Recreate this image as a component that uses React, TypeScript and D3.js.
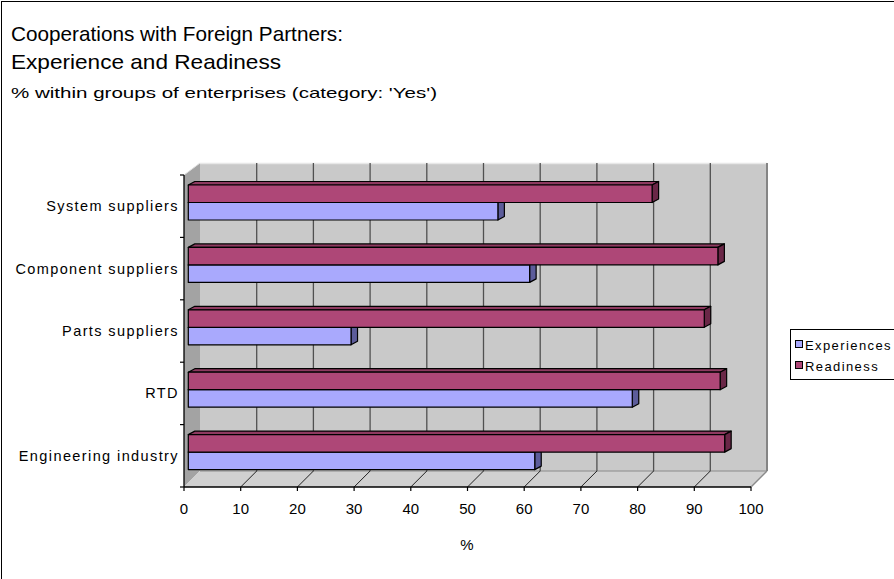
import React from 'react';
import * as d3 from 'd3';

const categories = ['System suppliers', 'Component suppliers', 'Parts suppliers', 'RTD', 'Engineering industry'];
const experiences = [54.6, 60.2, 28.7, 78.3, 61.1];
const readiness = [81.8, 93.4, 91.0, 93.8, 94.6];
const xTicks = [0, 10, 20, 30, 40, 50, 60, 70, 80, 90, 100];
const seriesNames = ['Experiences', 'Readiness'];
const titleLines = ['Cooperations with Foreign Partners:', 'Experience and Readiness'];
const subtitle = "% within groups of enterprises (category: 'Yes')";
const axisTitle = '%';

const W = 894, H = 579;
const FX0 = 184, FX1 = 751, FTOP = 175, FBOT = 487;
const DX = 16, DYT = -12, DYB = -16;
const BDX = 6.5, BDY = -3.5, BZ = 4.3;
const FONT = '"Liberation Sans", Arial, sans-serif';

const colors = {
  exp: { front: '#a9a9fd', top: '#8686cc', side: '#5c5c9a' },
  rdy: { front: '#ae4777', top: '#8e3a60', side: '#6a2747' },
};

export default function App() {
  const x = d3.scaleLinear().domain([0, 100]).range([FX0, FX1]);
  const y = d3.scaleBand<string>().domain(categories).range([FTOP, FBOT]);
  const bw = y.bandwidth();

  const bar = (v: number, y0: number, y1: number, c: { front: string; top: string; side: string }, key: string) => {
    const x0 = x(0) + BZ;
    const x1 = x(v) + BZ;
    const top = `${x0},${y0} ${x0 + BDX},${y0 + BDY} ${x1 + BDX},${y0 + BDY} ${x1},${y0}`;
    const side = `${x1},${y0} ${x1 + BDX},${y0 + BDY} ${x1 + BDX},${y1 + BDY} ${x1},${y1}`;
    return (
      <g key={key} stroke="#000" strokeWidth={1.2} strokeLinejoin="round">
        <polygon points={top} fill={c.top} />
        <polygon points={side} fill={c.side} />
        <rect x={x0} y={y0} width={x1 - x0} height={y1 - y0} fill={c.front} />
      </g>
    );
  };

  const backTop = FTOP + DYT, backBot = FBOT + DYB;
  const bx0 = FX0 + DX, bx1 = FX1 + DX;

  return (
    <svg width={W} height={H} style={{ position: 'absolute', left: 0, top: 0, background: '#fff' }} fontFamily={FONT}>
      <rect x={1.5} y={1.5} width={1200} height={1200} fill="#fff" stroke="#000" strokeWidth={1} />

      {/* titles */}
      <text x={11} y={41} fontSize={21} textLength={332} lengthAdjust="spacingAndGlyphs">{titleLines[0]}</text>
      <text x={11} y={69} fontSize={21} textLength={270} lengthAdjust="spacingAndGlyphs">{titleLines[1]}</text>
      <text x={11} y={98} fontSize={15} textLength={426} lengthAdjust="spacingAndGlyphs">{subtitle}</text>

      {/* walls */}
      <polygon points={`${bx0},${backTop} ${bx1},${backTop} ${bx1},${backBot} ${bx0},${backBot}`} fill="#c9c9c9" />
      <polygon points={`${FX0},${FTOP} ${bx0},${backTop} ${bx0},${backBot} ${FX0},${FBOT}`} fill="#a3a3a3" />
      <polygon points={`${FX0},${FBOT} ${FX1},${FBOT} ${bx1},${backBot} ${bx0},${backBot}`} fill="#d0d0d0" />
      <line x1={bx0} y1={backTop + 0.5} x2={bx1} y2={backTop + 0.5} stroke="#e8e8e8" strokeWidth={1.5} />
      <line x1={FX0} y1={FTOP} x2={bx0} y2={backTop} stroke="#e0e0e0" strokeWidth={1} />
      <line x1={bx0} y1={backBot} x2={bx1} y2={backBot} stroke="#8a8a8a" strokeWidth={1} />
      <line x1={bx1} y1={backTop} x2={bx1} y2={backBot} stroke="#858585" strokeWidth={2} />
      <line x1={FX1} y1={FBOT} x2={bx1} y2={backBot} stroke="#8a8a8a" strokeWidth={1.5} />

      {/* gridlines */}
      {xTicks.filter(t => t > 0 && t < 100).map(t => (
        <g key={'g' + t} stroke="#505050" strokeWidth={1.3}>
          <line x1={x(t) + DX} y1={backTop} x2={x(t) + DX} y2={backBot} />
          <line x1={x(t)} y1={FBOT} x2={x(t) + DX} y2={backBot} strokeWidth={1} stroke="#202020" />
        </g>
      ))}

      {/* bars */}
      {categories.map((c, i) => {
        const b = y(c)!;
        const r0 = b + 10, mid = b + 27.5, e1 = b + 45;
        return (
          <g key={c}>
            {bar(experiences[i], mid, e1, colors.exp, c + 'e')}
            {bar(readiness[i], r0, mid, colors.rdy, c + 'r')}
          </g>
        );
      })}

      {/* axes */}
      <line x1={FX0} y1={FTOP} x2={FX0} y2={FBOT} stroke="#000" strokeWidth={1.3} />
      <line x1={FX0} y1={FBOT} x2={FX1} y2={FBOT} stroke="#000" strokeWidth={1.3} />
      {categories.concat(['_end']).map((c, i) => {
        const yy = FTOP + i * bw;
        return <line key={'ct' + i} x1={FX0 - 4} y1={yy} x2={FX0} y2={yy} stroke="#000" strokeWidth={1.2} />;
      })}
      {xTicks.map(t => (
        <g key={'t' + t}>
          <line x1={x(t)} y1={FBOT} x2={x(t)} y2={FBOT + 4} stroke="#000" strokeWidth={1.2} />
          <text x={x(t)} y={514} fontSize={15} textAnchor="middle">{t}</text>
        </g>
      ))}
      {categories.map(c => (
        <text key={'l' + c} x={179} y={y(c)! + bw / 2 + 5} fontSize={14.5} textAnchor="end" letterSpacing={1.4}>{c}</text>
      ))}
      <text x={467} y={550} fontSize={15} textAnchor="middle">{axisTitle}</text>

      {/* legend */}
      <rect x={790.5} y={329.5} width={200} height={50} fill="#fff" stroke="#000" strokeWidth={1} />
      {seriesNames.map((s, i) => (
        <g key={s}>
          <rect x={795.5} y={340.5 + i * 21} width={7} height={7} fill={i === 0 ? colors.exp.front : colors.rdy.front} stroke="#000" strokeWidth={1} />
          <text x={805} y={349.5 + i * 21} fontSize={13} letterSpacing={1.4}>{s}</text>
        </g>
      ))}
    </svg>
  );
}
